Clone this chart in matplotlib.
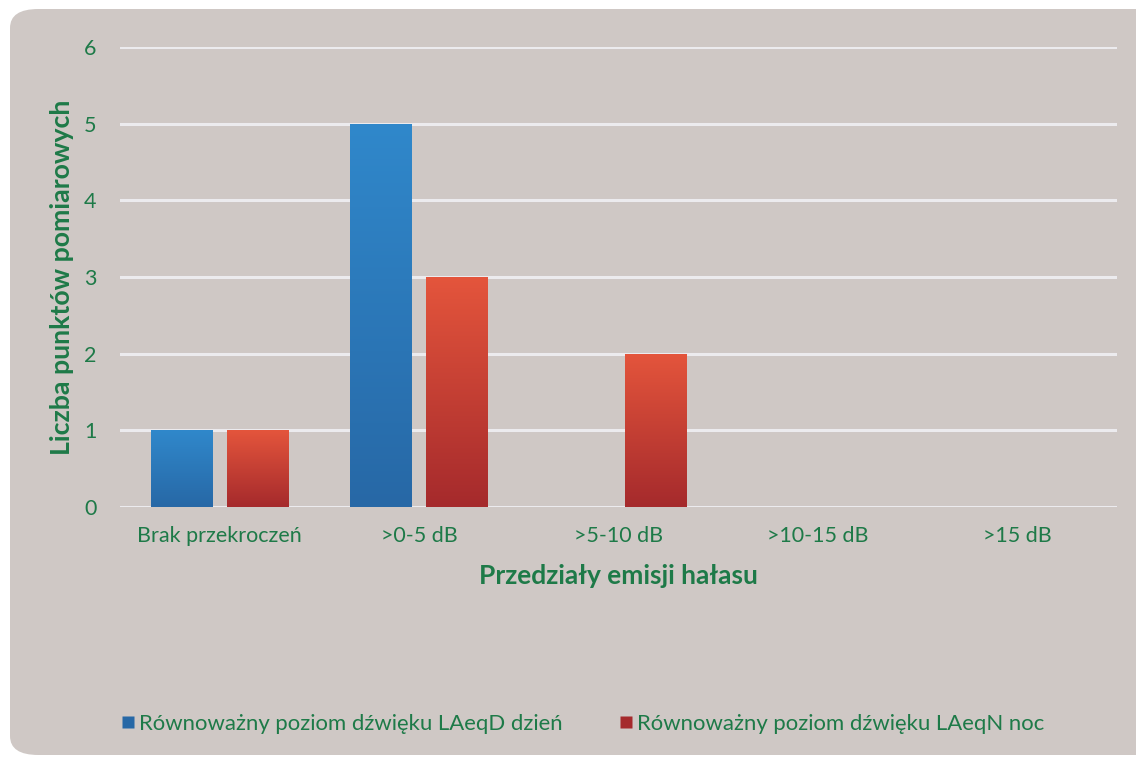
import numpy as np
import matplotlib
matplotlib.use("Agg")
import matplotlib.pyplot as plt
from matplotlib.patches import FancyBboxPatch
from matplotlib.colors import LinearSegmentedColormap
from matplotlib.lines import Line2D

# Data
categories = ["Brak przekroczeń", ">0-5 dB", ">5-10 dB", ">10-15 dB", ">15 dB"]
day_values = [1, 5, 0, 0, 0]
night_values = [1, 3, 2, 0, 0]
series_names = ["Równoważny poziom dźwięku LAeqD dzień",
                "Równoważny poziom dźwięku LAeqN noc"]
yticks = [0, 1, 2, 3, 4, 5, 6]

GREEN = "#1e7a48"
PANEL = "#cfc8c5"
GRID = "#ecebee"
BLUE_TOP, BLUE_BOT = "#3088cb", "#2768a6"
RED_TOP, RED_BOT = "#e4553c", "#a52a2c"

plt.rcParams["font.family"] = ["Lato", "DejaVu Sans"]

fig = plt.figure(figsize=(11.36, 7.58), dpi=100, facecolor="white")

# Rounded background panel
W, H = 1136, 758
panel = FancyBboxPatch((10 / W, 3 / H), 1.2, (746) / H,
                       boxstyle="round,pad=0,rounding_size=0.025",
                       transform=fig.transFigure, facecolor=PANEL,
                       edgecolor="none", zorder=-10)
fig.patches.append(panel)

ax = fig.add_axes([120 / W, 1 - 507 / H, (1117 - 120) / W, (507 - 47) / H])
ax.set_facecolor("none")
ax.set_zorder(1)
ax.set_ylim(0, 6)
ax.set_xlim(-0.5, len(categories) - 0.5)

x = np.arange(len(categories))
width = 0.31
offset = 0.19


def gradient_bars(bars, top, bottom):
    cmap = LinearSegmentedColormap.from_list("g", [bottom, top])
    grad = np.linspace(0, 1, 256).reshape(-1, 1)
    for b in bars:
        h = b.get_height()
        if h <= 0:
            continue
        x0 = b.get_x()
        im = ax.imshow(grad, cmap=cmap, aspect="auto", origin="lower",
                       extent=(x0, x0 + b.get_width(), 0, h), zorder=3)
        im.set_clip_path(b)
    ax.set_xlim(-0.5, len(categories) - 0.5)
    ax.set_ylim(0, 6)


bars_day = ax.bar(x - offset, day_values, width, color=BLUE_BOT, zorder=2,
                  linewidth=0)
bars_night = ax.bar(x + offset, night_values, width, color=RED_BOT, zorder=2,
                    linewidth=0)
gradient_bars(bars_day, BLUE_TOP, BLUE_BOT)
gradient_bars(bars_night, RED_TOP, RED_BOT)

ax.set_yticks(yticks)
ax.yaxis.grid(True, color=GRID, linewidth=2.2, zorder=1)
ax.set_axisbelow(True)
for s in ax.spines.values():
    s.set_visible(False)
ax.tick_params(axis="both", length=0, colors=GREEN, labelsize=15.5)
ax.tick_params(axis="y", pad=17)
ax.tick_params(axis="x", pad=14)
ax.set_xticks(x)
ax.set_xticklabels(categories)

ax.set_ylabel("Liczba punktów pomiarowych", color=GREEN, fontsize=19.3,
              fontweight="bold", labelpad=7)
ax.set_xlabel("Przedziały emisji hałasu", color=GREEN, fontsize=19,
              fontweight="bold", labelpad=13)

# Legend
handles = [Line2D([], [], marker="s", linestyle="none", markersize=8,
                  markerfacecolor=BLUE_BOT, markeredgecolor="none"),
           Line2D([], [], marker="s", linestyle="none", markersize=8,
                  markerfacecolor=RED_BOT, markeredgecolor="none")]
leg = fig.legend(handles, series_names, loc="center left",
                 bbox_to_anchor=(122 / W, 1 - 724 / H), ncol=2,
                 frameon=False, fontsize=15.9, handlelength=0.5,
                 handletextpad=0.25, columnspacing=2.65, borderaxespad=0,
                 borderpad=0)
for t in leg.get_texts():
    t.set_color(GREEN)

fig.savefig("out.png", dpi=100, facecolor="white")
